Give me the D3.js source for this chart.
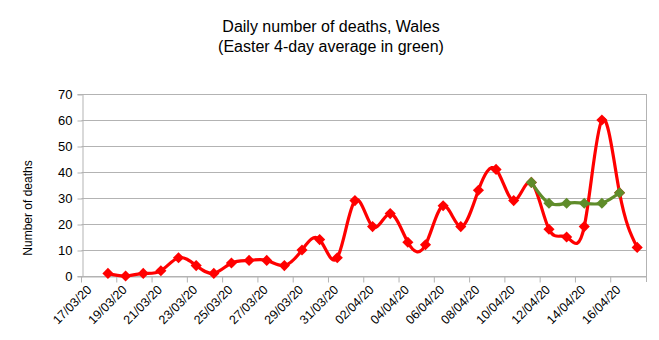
<!DOCTYPE html>
<html>
<head>
<meta charset="utf-8">
<script src="https://cdn.jsdelivr.net/npm/d3@7"></script>
<style>
body{margin:0;background:#fff;}
text{font-family:"Liberation Sans",Arial,sans-serif;fill:#000;}
</style>
</head>
<body>
<svg id="c" width="659" height="340"></svg>
<script>
const dates = ["17/03/20","18/03/20","19/03/20","20/03/20","21/03/20","22/03/20","23/03/20","24/03/20","25/03/20","26/03/20","27/03/20","28/03/20","29/03/20","30/03/20","31/03/20","01/04/20","02/04/20","03/04/20","04/04/20","05/04/20","06/04/20","07/04/20","08/04/20","09/04/20","10/04/20","11/04/20","12/04/20","13/04/20","14/04/20","15/04/20","16/04/20","17/04/20"];
const deaths = [null,1,0,1,2,7,4,1,5,6,6,4,10,14,7,29,19,24,13,12,27,19,33,41,29,36,18,15,19,60,32,11];
const easterAvg = [null,null,null,null,null,null,null,null,null,null,null,null,null,null,null,null,null,null,null,null,null,null,null,null,null,36,28,28,28,28,32,null];
const yTicks = [0,10,20,30,40,50,60,70];
const titleLines = ["Daily number of deaths, Wales","(Easter 4-day average in green)"];
const yTitle = "Number of deaths";

const svg = d3.select("#c");
const L = 81.5, R = 646, T = 94, B = 276;
const x = d3.scaleBand().domain(dates).range([L, R]).padding(0);
const bw = x.bandwidth();
const y = d3.scaleLinear().domain([0,70]).range([B, T]);
const cx = d => x(d) + bw/2;

// gridlines
svg.append("g").selectAll("line").data(yTicks).join("line")
  .attr("x1", L).attr("x2", R).attr("y1", d=>Math.round(y(d))+0.5).attr("y2", d=>Math.round(y(d))+0.5)
  .attr("stroke", "#b3b3b3").attr("stroke-width", 1);

// y axis
const ya = svg.append("g").attr("transform", `translate(${Math.round(L)+0.5},0)`)
  .call(d3.axisLeft(y).tickValues(yTicks).tickSize(5).tickPadding(5));
ya.select(".domain").attr("stroke", "#b3b3b3");
ya.selectAll(".tick line").attr("stroke", "#b3b3b3").attr("transform","translate(0,0.5)");
ya.selectAll(".tick text").style("font-size","13px").attr("font-family","Liberation Sans, Arial, sans-serif").attr("fill","#000");

// right border
svg.append("line").attr("x1", R+0.5).attr("x2", R+0.5).attr("y1", T).attr("y2", B+6).attr("stroke","#b3b3b3");

// x axis
const labelDates = dates.filter((d,i)=>i%2===0);
const xa = svg.append("g").attr("transform", `translate(0,${Math.round(B)+0.5})`)
  .call(d3.axisBottom(x).tickValues(labelDates).tickSize(6).tickSizeOuter(0));
xa.select(".domain").attr("stroke", "#b3b3b3");
xa.selectAll(".tick line").attr("stroke", "#b3b3b3").attr("transform", `translate(${-bw/2},0)`);
xa.selectAll(".tick text")
  .style("font-size","12.5px").attr("font-family","Liberation Sans, Arial, sans-serif").attr("fill","#000")
  .attr("text-anchor","end").attr("dy", null).attr("y", 0)
  .attr("transform","translate(2,14) rotate(-45)");

// lines
const line = d3.line().defined(d=>d.v!=null).x(d=>cx(d.d)).y(d=>y(d.v)).curve(d3.curveNatural);
const redData = dates.map((d,i)=>({d, v:deaths[i]})).filter(p=>p.v!=null);
const greenData = dates.map((d,i)=>({d, v:easterAvg[i]})).filter(p=>p.v!=null);

function series(data, color){
  const g = svg.append("g");
  g.append("path").datum(data).attr("d", line).attr("fill","none").attr("stroke", color)
    .attr("stroke-width", 3.2).attr("stroke-linejoin","round");
  g.selectAll("path.m").data(data).join("path").attr("class","m")
    .attr("d", d3.symbol().type(d3.symbolSquare).size(62))
    .attr("transform", p=>`translate(${cx(p.d)},${y(p.v)}) rotate(45)`)
    .attr("fill", color);
}
series(redData, "#ff0000");
series(greenData, "#5f8c2a");

// titles
svg.append("text").attr("x", 331).attr("y", 32).attr("text-anchor","middle").style("font-size","16px").text(titleLines[0]);
svg.append("text").attr("x", 331).attr("y", 52).attr("text-anchor","middle").style("font-size","16px").text(titleLines[1]);
svg.append("text").attr("transform","translate(32,208) rotate(-90)").attr("text-anchor","middle").style("font-size","12px").text(yTitle);
</script>
</body>
</html>
